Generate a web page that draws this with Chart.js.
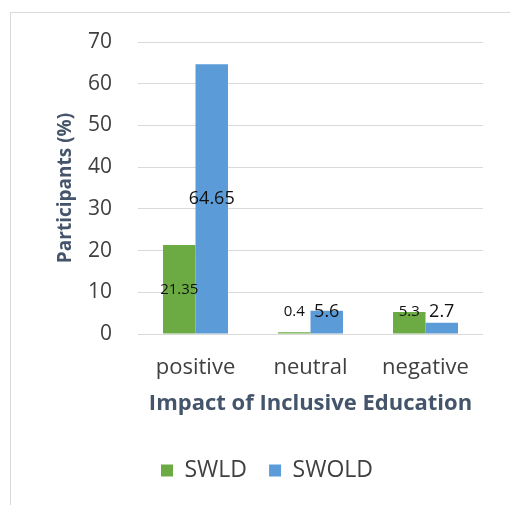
<!DOCTYPE html>
<html><head><meta charset="utf-8">
<script src="https://cdn.jsdelivr.net/npm/chart.js@4"></script>
<style>
html,body{margin:0;padding:0;background:#fff;}
#wrap{position:relative;width:510px;height:505px;}
</style></head>
<body><div id="wrap"><canvas id="c" width="510" height="505"></canvas></div>
<script>
const categories = ["positive", "neutral", "negative"];
const swld = [21.35, 0.4, 5.3];
const swold = [64.65, 5.6, 2.7];
const seriesNames = ["SWLD", "SWOLD"];
const yTicks = [0, 10, 20, 30, 40, 50, 60, 70];

const FONT = "'Open Sans', sans-serif";

const framePlugin = {
  id: 'frame',
  beforeDraw(chart) {
    const ctx = chart.ctx;
    ctx.save();
    ctx.strokeStyle = '#d9d9d9';
    ctx.lineWidth = 1;
    ctx.strokeRect(10.5, 12.5, chart.width + 20, chart.height + 20);
    ctx.restore();
  }
};

const labelSizes = [15, 18];
const labelPlugin = {
  id: 'barLabels',
  afterDatasetsDraw(chart) {
    const ctx = chart.ctx;
    const yScale = chart.scales.y;
    const base = yScale.getPixelForValue(0);
    ctx.save();
    ctx.fillStyle = '#111';
    ctx.textAlign = 'center';
    ctx.textBaseline = 'middle';
    chart.data.datasets.forEach((ds, di) => {
      const meta = chart.getDatasetMeta(di);
      meta.data.forEach((bar, i) => {
        const v = ds.data[i];
        const center = (bar.y + base) / 2;
        const y = Math.min(center, base - 22);
        ctx.font = labelSizes[di] + 'px ' + FONT;
        ctx.fillText(String(v), bar.x, y);
      });
    });
    ctx.restore();
  }
};

new Chart(document.getElementById('c'), {
  type: 'bar',
  data: {
    labels: categories,
    datasets: [
      { label: seriesNames[0], data: swld, backgroundColor: '#6cab43' },
      { label: seriesNames[1], data: swold, backgroundColor: '#5b9bd8' }
    ]
  },
  options: {
    responsive: false,
    animation: false,
    devicePixelRatio: 1,
    categoryPercentage: 0.565,
    barPercentage: 1.0,
    layout: { padding: { left: 51, right: 27, top: 42, bottom: 13 } },
    plugins: {
      tooltip: { enabled: false },
      legend: {
        position: 'bottom',
        labels: {
          boxWidth: 12, boxHeight: 12, padding: 22,
          color: '#404040',
          font: { family: FONT, size: 23 }
        }
      }
    },
    scales: {
      x: {
        afterFit(scale) { scale.height = 103; },
        grid: { display: false, drawTicks: false },
        border: { display: false },
        ticks: { color: '#404040', font: { family: FONT, size: 22 }, padding: 21 },
        title: { display: true, text: 'Impact of Inclusive Education', color: '#44546a',
          font: { family: FONT, size: 22, weight: 'bold' }, padding: { top: 0, bottom: 20 } }
      },
      y: {
        min: 0, max: 70,
        afterFit(scale) { scale.width = 87; },
        afterBuildTicks(scale) { scale.ticks = yTicks.map(v => ({ value: v })); },
        grid: { color: '#d9d9d9', drawTicks: false },
        border: { display: false },
        ticks: { color: '#404040', font: { family: FONT, size: 21 }, padding: 26 },
        title: { display: true, text: 'Participants (%)', color: '#44546a',
          font: { family: FONT, size: 19, weight: 'bold' }, padding: { top: 3, bottom: 0 } }
      }
    }
  },
  plugins: [framePlugin, labelPlugin]
});
</script></body></html>
